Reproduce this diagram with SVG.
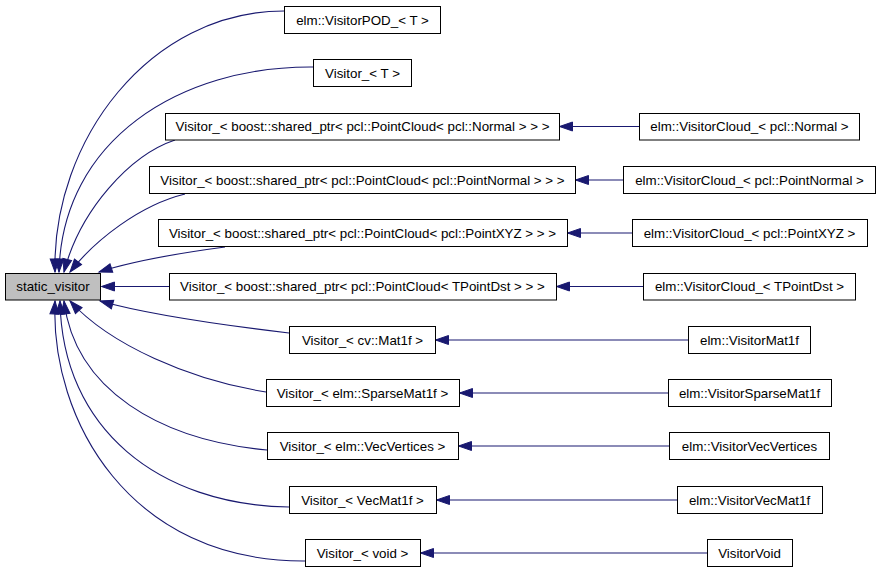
<svg xmlns="http://www.w3.org/2000/svg" width="880" height="573" viewBox="0 0 880 573">
<style>
  .n rect { fill: #ffffff; stroke: #000000; stroke-width: 1; }
  .n.root rect { fill: #bfbfbf; }
  .n text { font-family: "Liberation Sans", Arial, Helvetica, sans-serif; font-size: 13.33px; text-anchor: middle; fill: #000000; }
  .e path { fill: none; stroke: #191970; stroke-width: 1.1; marker-end: url(#ah); }
</style>
<defs>
  <marker id="ah" markerUnits="userSpaceOnUse" markerWidth="18" markerHeight="14" refX="14" refY="6" orient="auto" overflow="visible">
    <path d="M1,1.5 L14,6 L1,10.5 Z" fill="#191970" stroke="#191970" stroke-width="1"/>
  </marker>
</defs>
<rect x="0" y="0" width="880" height="573" fill="#ffffff"/>
<g id="edges" class="e">
  <path d="M284,11 C150,11 52,140 55,272"/>
  <path d="M313,67 C180,66 62,140 59,272"/>
  <path d="M175,140 C130,155 80,210 64,272"/>
  <path d="M185,194 C140,205 95,240 70,272"/>
  <path d="M225,247 C180,253 130,262 99,272"/>
  <path d="M169,286.5 L101.5,286.5"/>
  <path d="M289,333 C230,326 150,315 100,301"/>
  <path d="M266,392 C190,380 110,345 70,301"/>
  <path d="M267,450 C160,440 75,390 64,301"/>
  <path d="M289,507 C160,505 62,430 60,301"/>
  <path d="M305,561 C130,562 50,420 55,301"/>
  <path d="M639,126.5 L559.5,126.5"/>
  <path d="M623,180 L575.5,180"/>
  <path d="M632,233 L567.5,233"/>
  <path d="M643,286.5 L556.5,286.5"/>
  <path d="M688,340 L435.5,340"/>
  <path d="M668,393 L459.5,393"/>
  <path d="M669,446 L458.5,446"/>
  <path d="M677,500 L436.5,500"/>
  <path d="M707,553 L420.5,553"/>
</g>
<g id="static_visitor" class="n root"><rect x="5.5" y="273.5" width="95" height="26.5"/><text x="53" y="291">static_visitor</text></g>
<g id="VisitorPOD_T" class="n"><rect x="284.5" y="6.5" width="156" height="27"/><text x="362.5" y="24.5">elm::VisitorPOD_&lt; T &gt;</text></g>
<g id="Visitor_T" class="n"><rect x="313.5" y="59.5" width="98" height="27"/><text x="362.5" y="77.5">Visitor_&lt; T &gt;</text></g>
<g id="Visitor_Normal" class="n"><rect x="165.5" y="113.5" width="394" height="26.5"/><text x="362.5" y="131">Visitor_&lt; boost::shared_ptr&lt; pcl::PointCloud&lt; pcl::Normal &gt; &gt; &gt;</text></g>
<g id="Visitor_PointNormal" class="n"><rect x="149.5" y="166.5" width="426" height="27"/><text x="362.5" y="184.5">Visitor_&lt; boost::shared_ptr&lt; pcl::PointCloud&lt; pcl::PointNormal &gt; &gt; &gt;</text></g>
<g id="Visitor_PointXYZ" class="n"><rect x="158.5" y="219.5" width="409" height="27"/><text x="362.5" y="237.5">Visitor_&lt; boost::shared_ptr&lt; pcl::PointCloud&lt; pcl::PointXYZ &gt; &gt; &gt;</text></g>
<g id="Visitor_TPointDst" class="n"><rect x="169.5" y="273.5" width="387" height="26.5"/><text x="362.5" y="291">Visitor_&lt; boost::shared_ptr&lt; pcl::PointCloud&lt; TPointDst &gt; &gt; &gt;</text></g>
<g id="Visitor_Mat1f" class="n"><rect x="289.5" y="326.5" width="146" height="27"/><text x="362.5" y="344.5">Visitor_&lt; cv::Mat1f &gt;</text></g>
<g id="Visitor_SparseMat1f" class="n"><rect x="266.5" y="379.5" width="193" height="27"/><text x="362.5" y="397.5">Visitor_&lt; elm::SparseMat1f &gt;</text></g>
<g id="Visitor_VecVertices" class="n"><rect x="267.5" y="432.5" width="191" height="27"/><text x="362.5" y="450.5">Visitor_&lt; elm::VecVertices &gt;</text></g>
<g id="Visitor_VecMat1f" class="n"><rect x="289.5" y="486.5" width="147" height="27"/><text x="362.5" y="504.5">Visitor_&lt; VecMat1f &gt;</text></g>
<g id="Visitor_void" class="n"><rect x="305.5" y="539.5" width="115" height="27"/><text x="362.5" y="557.5">Visitor_&lt; void &gt;</text></g>
<g id="VisitorCloud_Normal" class="n"><rect x="639.5" y="113.5" width="220" height="26.5"/><text x="749.5" y="131">elm::VisitorCloud_&lt; pcl::Normal &gt;</text></g>
<g id="VisitorCloud_PointNormal" class="n"><rect x="623.5" y="166.5" width="252" height="27"/><text x="749.5" y="184.5">elm::VisitorCloud_&lt; pcl::PointNormal &gt;</text></g>
<g id="VisitorCloud_PointXYZ" class="n"><rect x="632.5" y="219.5" width="235" height="27"/><text x="749.5" y="237.5">elm::VisitorCloud_&lt; pcl::PointXYZ &gt;</text></g>
<g id="VisitorCloud_TPointDst" class="n"><rect x="643.5" y="273.5" width="212" height="26.5"/><text x="749.5" y="291">elm::VisitorCloud_&lt; TPointDst &gt;</text></g>
<g id="VisitorMat1f" class="n"><rect x="688.5" y="326.5" width="122" height="27"/><text x="749.5" y="344.5">elm::VisitorMat1f</text></g>
<g id="VisitorSparseMat1f" class="n"><rect x="668.5" y="379.5" width="163" height="27"/><text x="749.5" y="397.5">elm::VisitorSparseMat1f</text></g>
<g id="VisitorVecVertices" class="n"><rect x="669.5" y="432.5" width="160" height="27"/><text x="749.5" y="450.5">elm::VisitorVecVertices</text></g>
<g id="VisitorVecMat1f" class="n"><rect x="677.5" y="486.5" width="145" height="27"/><text x="749.5" y="504.5">elm::VisitorVecMat1f</text></g>
<g id="VisitorVoid" class="n"><rect x="707.5" y="539.5" width="85" height="27"/><text x="749.5" y="557.5">VisitorVoid</text></g>
</svg>
